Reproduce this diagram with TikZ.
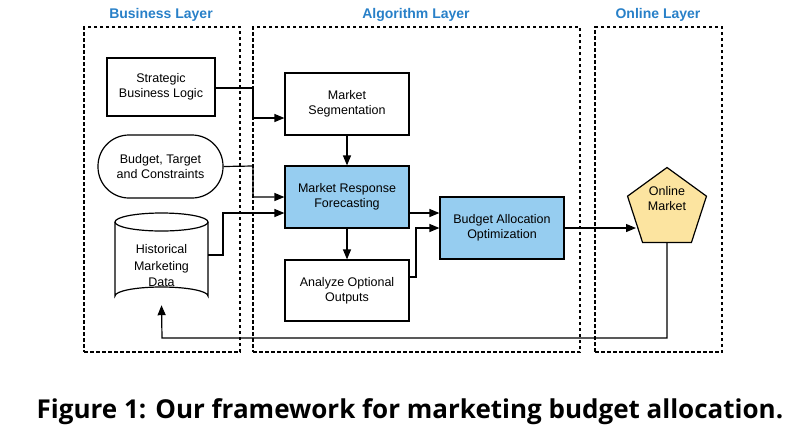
\documentclass[tikz,border=0pt]{standalone}
\usepackage{fontspec}
\setmainfont{Liberation Sans}
\newfontfamily\capfont{Open Sans}
\usetikzlibrary{shapes.geometric,arrows.meta}
\definecolor{laybl}{RGB}{40,128,200}
\definecolor{boxbl}{RGB}{150,205,240}
\definecolor{penty}{RGB}{252,228,160}
\begin{document}
\begin{tikzpicture}[x=1pt,y=-1pt,
  lay/.style={draw,line width=1.2pt,dash pattern=on 3.5pt off 2.5pt},
  laytitle/.style={text=laybl,font=\fontsize{14}{16}\selectfont\bfseries},
  box/.style={draw,line width=1.2pt,font=\fontsize{12.5}{15}\selectfont,align=center,inner sep=0pt},
  arr/.style={line width=1.2pt,-{Triangle[length=10pt,width=8pt]}},
  ln/.style={line width=1.2pt}]
\useasboundingbox (0,0) rectangle (810,440);
\node[lay,minimum width=156pt,minimum height=325pt] (bl) at (162,189.5) {};
\node[lay,minimum width=327pt,minimum height=325pt] (al) at (416.5,189.5) {};
\node[lay,minimum width=127pt,minimum height=325pt] (ol) at (658.5,189.5) {};
\node[laytitle] (t1) at (161,15) {Business Layer};
\node[laytitle] (t2) at (416,15) {Algorithm Layer};
\node[laytitle] (t3) at (658,15) {Online Layer};
\node[box,minimum width=108pt,minimum height=58pt] (sbl) at (161,87) {Strategic\\Business Logic};
\node[box,rounded corners=31pt,minimum width=125pt,minimum height=63pt] (btc) at (160.5,166.5) {Budget, Target\\and Constraints};
\node[minimum width=93pt,minimum height=92pt,inner sep=0pt] (hmd) at (161.5,259) {};
\draw[ln,fill=white] (115,222) -- (115,296) arc[start angle=180,end angle=0,x radius=46.5pt,y radius=9pt] -- (208,222);
\draw[ln] (161.5,222) ellipse[x radius=46.5pt,y radius=9pt];
\node[font=\fontsize{12.5}{16.5}\selectfont,align=center] (hmdt) at (161.5,266) {Historical\\Marketing\\Data};
\node[box,minimum width=124pt,minimum height=62pt] (ms) at (347,104) {Market\\Segmentation};
\node[box,fill=boxbl,minimum width=124pt,minimum height=62pt] (mrf) at (347,197) {Market Response\\Forecasting};
\node[box,minimum width=124pt,minimum height=61pt] (aoo) at (347,290.5) {Analyze Optional\\Outputs};
\node[box,fill=boxbl,minimum width=124pt,minimum height=62pt] (bao) at (502,228) {Budget Allocation\\Optimization};
\node[box,fill=penty,regular polygon,regular polygon sides=5,minimum size=83pt] (om) at (667,209) {};
\node[font=\fontsize{12.5}{15}\selectfont,align=center] (omt) at (667,199) {Online\\Market};
\draw[arr] (sbl.east|-0,88) -- (253,88) -- (253,118) -- (ms.west|-0,118);
\draw[arr] (btc.east) -- (253,166) -- (253,197) -- (mrf.west|-0,197);
\draw[arr] (hmd.east|-0,255) -- (223,255) -- (223,213) -- (mrf.west|-0,213);
\draw[arr] (ms.south) -- (mrf.north);
\draw[arr] (mrf.south) -- (aoo.north);
\draw[arr] (mrf.east|-0,213) -- (bao.west|-0,213);
\draw[arr] (aoo.east|-0,277) -- (416,277) -- (416,228) -- (bao.west|-0,228);
\draw[arr] (bao.east) -- (636,228);
\draw[arr] (om.south) -- (667,338) -- (162,338) -- (hmd.south);
\node[font=\capfont\bfseries\fontsize{26}{30}\selectfont] (cap) at (410,412) {Figure 1: Our framework for marketing budget allocation.};
\end{tikzpicture}
\end{document}
